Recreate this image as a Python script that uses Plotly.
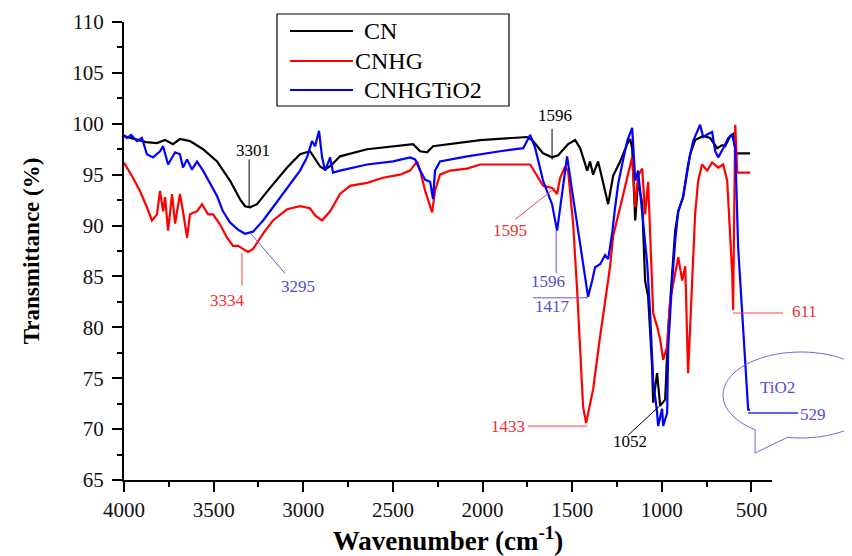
import numpy as np
import plotly.graph_objects as go

# ---------------- data ----------------
cn_wn = [4000, 3939, 3877, 3816, 3771, 3727, 3688, 3632, 3559, 3481, 3408, 3353, 3325, 3297, 3258, 3185,
         3090, 3018, 2962, 2906, 2878, 2839, 2795, 2644, 2387, 2348, 2309, 2276, 2013, 1751, 1723, 1662,
         1612, 1578, 1522, 1483, 1455, 1416, 1400, 1383, 1355, 1327, 1299, 1271, 1232, 1193, 1176, 1165,
         1148, 1132, 1109, 1093, 1076, 1054, 1048, 1026, 1009, 981, 964, 942, 925, 908, 881, 842,
         814, 769, 730, 691, 663, 646, 618, 602, 585, 507]
cn_t = [98.8, 98.5, 98.2, 98.1, 98.4, 98.0, 98.5, 98.3, 97.5, 96.3, 94.4, 92.6, 91.9, 91.8, 92.1, 93.7,
        95.7, 97.0, 97.3, 95.8, 95.5, 96.0, 96.8, 97.5, 98.0, 97.3, 97.2, 97.8, 98.4, 98.7, 98.4, 97.1,
        96.7, 96.9, 98.0, 98.4, 97.6, 95.4, 96.3, 95.0, 96.3, 94.2, 92.1, 94.9, 96.3, 98.0, 98.5, 97.6,
        90.5, 94.4, 92.1, 84.6, 83.0, 76.2, 72.6, 75.5, 72.3, 72.9, 79.7, 85.3, 89.5, 91.4, 92.8, 97.0,
        98.4, 98.8, 98.6, 97.6, 97.9, 97.8, 98.8, 99.0, 97.1, 97.1]

cnhg_wn = [4000, 3994, 3950, 3911, 3872, 3844, 3816, 3799, 3782, 3771, 3754, 3732, 3715, 3688, 3671, 3648,
           3632, 3593, 3565, 3531, 3503, 3464, 3425, 3392, 3364, 3336, 3308, 3280, 3224, 3169, 3090, 3018,
           2962, 2934, 2895, 2850, 2795, 2739, 2644, 2555, 2460, 2404, 2365, 2348, 2320, 2281, 2265, 2237,
           2181, 2086, 2013, 1734, 1706, 1662, 1612, 1584, 1567, 1539, 1522, 1494, 1472, 1455, 1439, 1422,
           1405, 1383, 1344, 1305, 1288, 1271, 1249, 1232, 1193, 1165, 1148, 1132, 1109, 1093, 1076, 1054,
           1048, 1026, 1009, 992, 970, 953, 925, 908, 886, 869, 853, 830, 814, 797, 775, 747,
           719, 685, 657, 635, 624, 607, 602, 590, 579, 507]
cnhg_t = [96.2, 96.0, 94.7, 93.4, 91.8, 90.5, 91.1, 93.4, 91.4, 92.8, 89.5, 93.1, 90.2, 93.1, 91.4, 88.8,
          91.1, 91.4, 92.1, 91.1, 91.1, 90.1, 88.8, 88.0, 88.0, 87.7, 87.4, 87.7, 89.2, 90.5, 91.6, 91.9,
          91.7, 91.0, 90.5, 91.4, 93.1, 93.9, 94.2, 94.7, 95.0, 95.4, 96.3, 95.4, 93.4, 91.3, 93.4, 95.0,
          95.4, 95.6, 96.0, 96.0, 95.2, 93.9, 93.7, 93.1, 94.7, 95.8, 95.3, 90.1, 83.6, 77.1, 72.2, 70.6,
          72.0, 73.9, 79.1, 83.6, 86.0, 89.0, 90.5, 91.8, 94.7, 96.7, 91.8, 94.9, 95.6, 91.1, 94.3, 84.6,
          81.4, 80.1, 78.8, 76.8, 78.1, 82.7, 85.5, 86.9, 84.6, 86.0, 75.5, 84.6, 91.1, 94.4, 96.0, 95.4,
          96.2, 95.7, 96.0, 94.4, 90.5, 85.3, 81.7, 99.9, 95.2, 95.2]

tio2_wn = [4000, 3983, 3961, 3927, 3900, 3872, 3838, 3799, 3782, 3754, 3715, 3688, 3671, 3648, 3621, 3593,
           3559, 3520, 3481, 3448, 3408, 3364, 3325, 3280, 3224, 3169, 3090, 3018, 2979, 2951, 2934, 2912,
           2895, 2878, 2850, 2834, 2795, 2644, 2499, 2404, 2376, 2348, 2320, 2292, 2276, 2265, 2237, 2086,
           1902, 1773, 1734, 1706, 1662, 1612, 1584, 1556, 1528, 1500, 1472, 1444, 1416, 1411, 1388, 1372,
           1344, 1316, 1299, 1277, 1260, 1243, 1221, 1193, 1165, 1148, 1132, 1109, 1081, 1065, 1048, 1026,
           1020, 998, 992, 970, 964, 942, 925, 908, 881, 853, 825, 786, 769, 741, 719, 702,
           685, 657, 629, 607, 590, 574, 551, 535, 518, 507]
tio2_t = [98.9, 98.6, 98.9, 98.3, 98.6, 97.0, 96.7, 97.3, 97.8, 96.0, 97.2, 97.0, 95.7, 96.5, 95.5, 96.3,
          95.4, 94.2, 92.9, 91.4, 90.3, 89.6, 89.2, 89.4, 90.5, 91.8, 93.7, 95.4, 96.7, 98.3, 97.8, 99.3,
          96.7, 95.4, 96.7, 95.2, 95.4, 96.0, 96.3, 96.7, 96.5, 95.4, 94.5, 94.3, 92.6, 95.4, 96.3, 96.8,
          97.3, 97.6, 98.9, 97.6, 94.4, 92.1, 89.5, 93.4, 96.8, 93.4, 90.1, 87.2, 83.6, 83.0, 84.6, 85.9,
          86.2, 87.1, 86.7, 89.2, 91.8, 94.1, 96.0, 98.3, 99.6, 94.4, 95.4, 91.1, 86.2, 81.4, 74.8, 71.6,
          70.3, 72.0, 70.3, 71.6, 78.1, 84.6, 88.5, 91.4, 92.8, 96.0, 98.3, 99.9, 98.7, 99.0, 99.2, 97.3,
          96.7, 97.6, 98.6, 98.9, 97.6, 87.9, 81.4, 76.5, 71.9, 71.9]

series_names = ["CN", "CNHG", "CNHGTiO2"]
series_colors = ["#000000", "#ff0000", "#0000ff"]

x_ticks = [4000, 3500, 3000, 2500, 2000, 1500, 1000, 500]
y_ticks = [65, 70, 75, 80, 85, 90, 95, 100, 105, 110]

# peak labels (text, wavenumber, transmittance, colour key)
peak_text = ["3301", "3334", "3295", "1596", "1595", "1596", "1417", "1433", "1052"]
peak_x = [3280, 3420, 3029, 1595, 1846, 1634, 1612, 1857, 1176]
peak_y = [97.4, 82.6, 84.0, 100.8, 89.5, 84.5, 82.0, 70.3, 68.8]
peak_col = ["k", "r", "b", "k", "r", "b", "b", "r", "k"]
# leader lines (x0, y0, x1, y1, colour key)
lead_x0 = [3302, 3342, 3297, 1612, 1818, 1589, 1718, 1746, 1188]
lead_y0 = [96.5, 87.3, 89.3, 99.5, 90.6, 89.5, 82.9, 70.3, 69.4]
lead_x1 = [3302, 3342, 3102, 1612, 1595, 1589, 1411, 1416, 992]
lead_y1 = [91.9, 84.1, 85.3, 96.5, 93.7, 85.3, 82.9, 70.3, 72.6]
lead_col = ["k", "r", "b", "k", "r", "b", "b", "r", "k"]

# ---------------- figure ----------------
# page body has an 8px margin, so the figure is drawn 8px in from the window corner
OFF = 8
W, H = 852 - OFF, 556 - OFF
PL, PR, PT, PB = 124, 772, 22, 480          # plot area in window pixels
ML, MT = PL - OFF, PT - OFF
MR, MB = W - (PR - OFF), H - (PB - OFF)
PW, PH = PR - PL, PB - PT

def px(xp):
    return (xp - PL) / PW

def py(yp):
    return (PB - yp) / PH

lab_col = {"k": "#000000", "r": "#f03030", "b": "#5050d0"}
line_col = {"k": "#000000", "r": "#ff4040", "b": "#5a5ad8"}

SERIF = "Liberation Serif"

fig = go.Figure()
for name, xs, ys, col in zip(series_names, [cn_wn, cnhg_wn, tio2_wn], [cn_t, cnhg_t, tio2_t], series_colors):
    fig.add_trace(go.Scatter(x=xs, y=ys, mode="lines", name=name,
                             line=dict(color=col, width=2.2), showlegend=False))

annotations = []
shapes = []
for t, x, y, c in zip(peak_text, peak_x, peak_y, peak_col):
    annotations.append(dict(text=t, x=x, y=y, xref="x", yref="y", showarrow=False,
                            xanchor="center", yanchor="middle",
                            font=dict(family=SERIF, size=17, color=lab_col[c])))
for x0, y0, x1, y1, c in zip(lead_x0, lead_y0, lead_x1, lead_y1, lead_col):
    shapes.append(dict(type="line", x0=x0, y0=y0, x1=x1, y1=y1, xref="x", yref="y",
                       line=dict(color=line_col[c], width=1)))

# labels outside the axis range (paper coordinates)
for t, xx, yy, c in [("611", 805, 311, "r"), ("529", 813, 414, "b"), ("TiO2", 777, 387, "b")]:
    annotations.append(dict(text=t, x=px(xx), y=py(yy), xref="paper", yref="paper", showarrow=False,
                            xanchor="center", yanchor="middle",
                            font=dict(family=SERIF, size=17, color=lab_col[c])))
shapes.append(dict(type="line", x0=px(733), x1=px(783), y0=py(313), y1=py(313), xref="paper", yref="paper",
                   line=dict(color=line_col["r"], width=1)))
shapes.append(dict(type="line", x0=px(748), x1=px(798), y0=py(413), y1=py(413), xref="paper", yref="paper",
                   line=dict(color="#3030e0", width=1.6)))

# speech bubble around TiO2
cx, cy, rx, ry = 801, 395, 78, 43
angs = np.radians(np.linspace(100, -234, 90))
pts = [(cx + rx * np.cos(a), cy + ry * np.sin(a)) for a in angs]
path = "M{:.4f},{:.4f}".format(px(pts[0][0]), py(pts[0][1]))
for xx, yy in pts[1:]:
    path += " L{:.4f},{:.4f}".format(px(xx), py(yy))
path += " L{:.4f},{:.4f} Z".format(px(755), py(453))
shapes.append(dict(type="path", path=path, xref="paper", yref="paper",
                   line=dict(color="#6a6ad8", width=1)))

# legend box (drawn by hand to match the original)
shapes.append(dict(type="rect", x0=px(277), x1=px(509), y0=py(106), y1=py(14), xref="paper", yref="paper",
                   line=dict(color="#000000", width=1.2), fillcolor="rgba(255,255,255,1)", layer="above"))
leg_y = [31, 61, 90]
leg_tx = [362, 353, 362]
for name, col, yy, tx in zip(series_names, series_colors, leg_y, leg_tx):
    shapes.append(dict(type="line", x0=px(290), x1=px(353), y0=py(yy), y1=py(yy), xref="paper", yref="paper",
                       line=dict(color=col, width=2.2), layer="above"))
    annotations.append(dict(text=name, x=px(tx), y=py(yy), xref="paper", yref="paper", showarrow=False,
                            xanchor="left", yanchor="middle",
                            font=dict(family=SERIF, size=24, color="#000000")))

axis_common = dict(showline=True, linecolor="black", linewidth=2, ticks="outside", ticklen=10,
                   tickwidth=2, tickcolor="black", showgrid=False, zeroline=False, mirror=False,
                   tickfont=dict(family=SERIF, size=21, color="#111111"))

fig.update_layout(
    width=W, height=H,
    margin=dict(l=ML, r=MR, t=MT, b=MB, autoexpand=False),
    paper_bgcolor="white", plot_bgcolor="white",
    showlegend=False,
    annotations=annotations, shapes=shapes,
    xaxis=dict(range=[4000, 385], tickvals=x_ticks, ticktext=[str(v) for v in x_ticks],
               minor=dict(ticks="outside", ticklen=5, tickwidth=2, tickcolor="black", dtick=250, tick0=0),
               title=dict(text="<b>Wavenumber (cm<sup>-1</sup>)</b>", standoff=12,
                          font=dict(family=SERIF, size=27, color="black")),
               **axis_common),
    yaxis=dict(range=[65, 110], tickvals=y_ticks, ticktext=[str(v) for v in y_ticks],
               ticklabelstandoff=4,
               minor=dict(ticks="outside", ticklen=5, tickwidth=2, tickcolor="black", dtick=2.5, tick0=0),
               title=dict(text="<b>Transmittance (%)</b>", standoff=26,
                          font=dict(family=SERIF, size=23, color="black")),
               **axis_common),
)

fig.write_html("out.html")
